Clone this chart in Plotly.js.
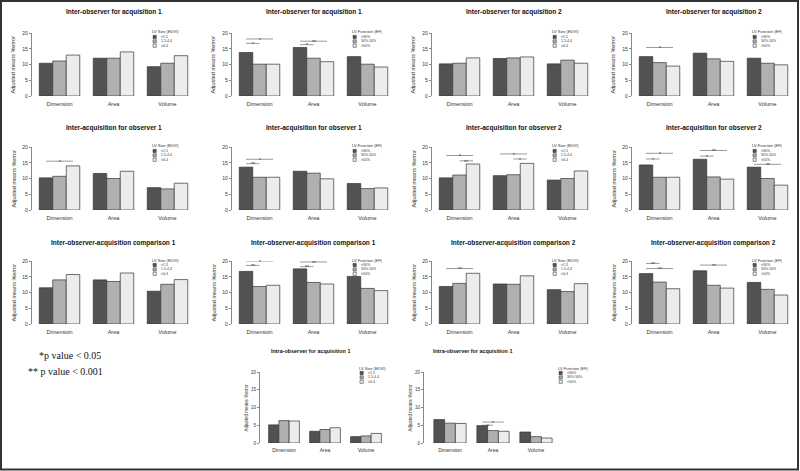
<!DOCTYPE html>
<html><head><meta charset="utf-8">
<script src="https://cdn.plot.ly/plotly-3.0.1.min.js"></script>
<style>html,body{margin:0;padding:0;background:#fff}#chart{width:800px;height:471px}</style>
</head><body><div id="chart"></div>
<script>
const categories = ["Dimension", "Area", "Volume"];
const sizeGroups = ["<1.5", "1.5-4.4", ">4.4"];
const functionGroups = ["<30%", "30%-50%", ">50%"];
const sizeLegendTitle = "LV Size (EDVI)";
const functionLegendTitle = "LV Function (EF)";
const yAxisTitle = "Adjusted means %error";
const yTicks = [0, 5, 10, 15, 20];

// each array: [group1, group2, group3], values over Dimension, Area, Volume
const interObsAcq1Size = [[10.4, 12.0, 9.3], [11.1, 12.0, 10.4], [13.0, 14.0, 12.8]];
const interObsAcq1Func = [[13.8, 15.4, 12.5], [10.1, 12.0, 10.1], [10.1, 10.9, 9.2]];
const interObsAcq2Size = [[10.2, 11.9, 10.2], [10.4, 12.1, 11.4], [12.1, 12.4, 10.4]];
const interObsAcq2Func = [[12.5, 13.6, 12.0], [10.6, 11.8, 10.4], [9.5, 11.0, 9.9]];
const interAcqObs1Size = [[10.2, 11.6, 7.1], [10.7, 10.0, 6.7], [14.0, 12.3, 8.5]];
const interAcqObs1Func = [[13.6, 12.3, 8.4], [10.4, 11.7, 6.8], [10.4, 9.9, 7.0]];
const interAcqObs2Size = [[10.2, 10.9, 9.5], [11.1, 11.2, 10.0], [14.6, 14.8, 12.4]];
const interAcqObs2Func = [[14.3, 16.1, 13.6], [10.4, 10.5, 10.0], [10.4, 9.8, 7.9]];
const comp1Size = [[11.5, 14.0, 10.4], [14.0, 13.5, 12.6], [15.7, 16.2, 14.1]];
const comp1Func = [[16.7, 17.5, 15.1], [11.9, 13.2, 11.3], [12.3, 12.7, 10.6]];
const comp2Size = [[11.9, 12.7, 10.9], [12.9, 12.6, 10.3], [16.1, 15.3, 12.8]];
const comp2Func = [[16.0, 16.9, 13.2], [13.3, 12.3, 11.0], [11.2, 11.4, 9.2]];
const intraAcq1Size = [[5.1, 3.3, 1.8], [6.3, 3.8, 2.0], [6.2, 4.3, 2.7]];
const intraAcq1Func = [[6.6, 4.9, 3.1], [5.6, 3.5, 1.8], [5.5, 3.3, 1.4]];

// significance brackets: [category, fromBar, toBar, level, label]
const sigInterObsAcq1Func = [[0, 0, 2, 18.1, "*"], [0, 0, 1, 16.7, "*"], [1, 0, 2, 17.4, "**"], [1, 0, 1, 16.3, "*"]];
const sigInterObsAcq2Func = [[0, 0, 2, 15.4, "*"]];
const sigInterAcqObs1Size = [[0, 0, 2, 15.5, "*"]];
const sigInterAcqObs1Func = [[0, 0, 2, 16.1, "*"], [0, 0, 1, 14.7, "**"]];
const sigInterAcqObs2Size = [[0, 0, 2, 17.3, "*"], [0, 1, 2, 15.6, "**"], [1, 0, 2, 17.8, "*"], [1, 1, 2, 16.2, "*"]];
const sigInterAcqObs2Func = [[0, 0, 2, 18.0, "*"], [0, 0, 1, 16.2, "*"], [1, 0, 2, 18.9, "**"], [1, 0, 1, 17.1, "*"], [2, 0, 2, 14.5, "**"]];
const sigComp1Func = [[0, 0, 2, 20.0, "*"], [0, 0, 1, 18.6, "**"], [1, 0, 2, 19.7, "**"], [1, 0, 1, 18.2, "**"]];
const sigComp2Size = [[0, 0, 2, 17.6, "**"]];
const sigComp2Func = [[0, 0, 1, 19.2, "**"], [0, 0, 2, 17.6, "**"], [1, 0, 2, 18.7, "**"]];
const sigIntraAcq1Func = [[1, 0, 2, 5.9, "*"], [1, 0, 1, 5.0, "*"]];

const pNotes = ["*p value &lt; 0.05", "** p value &lt; 0.001"];

const panels = [
  {v: interObsAcq1Size, sig: [], kind: "size", title: "Inter-observer for acquisition 1", row: 0, col: 0, yt: true},
  {v: interObsAcq1Func, sig: sigInterObsAcq1Func, kind: "func", title: "Inter-observer for acquisition 1", row: 0, col: 1, yt: true},
  {v: interObsAcq2Size, sig: [], kind: "size", title: "Inter-observer for acquisition 2", row: 0, col: 2, yt: true},
  {v: interObsAcq2Func, sig: sigInterObsAcq2Func, kind: "func", title: "Inter-observer for acquisition 2", row: 0, col: 3, yt: true},
  {v: interAcqObs1Size, sig: sigInterAcqObs1Size, kind: "size", title: "Inter-acquisition for observer 1", row: 1, col: 0, yt: true},
  {v: interAcqObs1Func, sig: sigInterAcqObs1Func, kind: "func", title: "Inter-acquisition for observer 1", row: 1, col: 1, yt: false},
  {v: interAcqObs2Size, sig: sigInterAcqObs2Size, kind: "size", title: "Inter-acquisition for observer 2", row: 1, col: 2, yt: true},
  {v: interAcqObs2Func, sig: sigInterAcqObs2Func, kind: "func", title: "Inter-acquisition for observer 2", row: 1, col: 3, yt: true},
  {v: comp1Size, sig: [], kind: "size", title: "Inter-observer-acquisition comparison 1", row: 2, col: 0, yt: true},
  {v: comp1Func, sig: sigComp1Func, kind: "func", title: "Inter-observer-acquisition comparison 1", row: 2, col: 1, yt: true},
  {v: comp2Size, sig: sigComp2Size, kind: "size", title: "Inter-observer-acquisition comparison 2", row: 2, col: 2, yt: true},
  {v: comp2Func, sig: sigComp2Func, kind: "func", title: "Inter-observer-acquisition comparison 2", row: 2, col: 3, yt: true},
  {v: intraAcq1Size, sig: [], kind: "size", title: "Intra-observer for acquisition 1", row: 3, col: 0, yt: true},
  {v: intraAcq1Func, sig: sigIntraAcq1Func, kind: "func", title: "Intra-observer for acquisition 1", row: 3, col: 1, yt: true}
];

// geometry (pixels)
const W = 800, H = 471;
const rowGeo = [
  {y0: 96, y20: 33, tY: 12},
  {y0: 210, y20: 147, tY: 128},
  {y0: 324, y20: 261, tY: 243},
  {y0: 443, y20: 372, tY: 351}
];
function geo(p) {
  if (p.row < 3) {
    const ax = 32 + 200 * p.col;
    return {ax: ax, c0: ax + 27.5, u: 54, legX: ax + 118, legY: rowGeo[p.row].y20 - 1, ytX: ax - 19,
            fs: 5.5, tfs: 5, tcx: null, tsz: 6.5, so: 3};
  }
  if (p.col === 0) return {ax: 260, c0: 284, u: 41, legX: 357, legY: 368, ytX: 246, fs: 5, tfs: 4.5, tcx: 310, tsz: 5.4, so: 3};
  return {ax: 424, c0: 450, u: 43, legX: 556, legY: 368, ytX: 410, fs: 5, tfs: 4.5, tcx: 472, tsz: 5.4, so: 3};
}
const PX = x => x / W;
const PY = y => 1 - y / H;

const colors = ["#525252", "#b0b0b0", "#ececec"];
const edge = "#333333";
const txt = "#333333";
const sans = "Liberation Sans, Arial, sans-serif";

const data = [];
const layout = {
  width: W, height: H, margin: {l: 0, r: 0, t: 0, b: 0},
  paper_bgcolor: "#ffffff", plot_bgcolor: "rgba(0,0,0,0)",
  barmode: "group", bargap: 0.25, bargroupgap: 0,
  showlegend: false, hovermode: false,
  font: {family: sans, color: txt},
  annotations: [], shapes: []
};

panels.forEach((p, k) => {
  const g = geo(p);
  const rg = rowGeo[p.row];
  const sfx = k === 0 ? "" : String(k + 1);
  const xr = "x" + sfx, yr = "y" + sfx;
  const left = -(g.c0 - g.ax) / g.u;
  const rightPx = g.c0 + 2 * g.u + (g.c0 - g.ax);
  const right = left + (rightPx - g.ax) / g.u;
  const groups = p.kind === "size" ? sizeGroups : functionGroups;
  p.v.forEach((series, j) => {
    data.push({
      type: "bar", x: [0, 1, 2], y: series, name: groups[j],
      xaxis: xr, yaxis: yr,
      marker: {color: colors[j], line: {color: edge, width: 0.7}}
    });
  });
  layout["xaxis" + sfx] = {
    domain: [PX(g.ax), PX(rightPx)], range: [left, right], anchor: yr,
    tickvals: [0, 1, 2], ticktext: categories, ticks: "", showline: false,
    ticklabelstandoff: g.so,
    showgrid: false, zeroline: false, tickfont: {size: g.fs, color: txt, family: sans}
  };
  layout["yaxis" + sfx] = {
    domain: [PY(rg.y0), PY(rg.y20)], range: [0, 20], anchor: xr,
    tickvals: yTicks, ticks: "outside", ticklen: 2.5, tickwidth: 0.7, tickcolor: "#555",
    showline: true, linecolor: "#555", linewidth: 0.7,
    showgrid: false, zeroline: false, tickfont: {size: g.tfs, color: txt, family: sans}
  };
  // title
  const tcx = g.tcx !== null ? g.tcx : (g.ax + rightPx) / 2;
  layout.annotations.push({
    xref: "paper", yref: "paper", x: PX(tcx), y: PY(rg.tY),
    xanchor: "center", yanchor: "middle", showarrow: false,
    text: "<b>" + p.title + "</b>", font: {size: g.tsz, color: "#111", family: sans}
  });
  // y title
  if (p.yt) {
    layout.annotations.push({
      xref: "paper", yref: "paper", x: PX(g.ytX), y: PY((rg.y0 + rg.y20) / 2),
      xanchor: "center", yanchor: "middle", showarrow: false, textangle: -90,
      text: yAxisTitle, font: {size: p.row < 3 ? 5.5 : 4.5, color: txt, family: sans}
    });
  }
  // legend
  layout.annotations.push({
    xref: "paper", yref: "paper", x: PX(g.legX), y: PY(g.legY),
    xanchor: "left", yanchor: "middle", showarrow: false,
    text: p.kind === "size" ? sizeLegendTitle : functionLegendTitle,
    font: {size: 4, color: txt, family: sans}
  });
  groups.forEach((lab, j) => {
    const cy = g.legY + 5 + 4.4 * j;
    layout.shapes.push({
      type: "rect", xref: "paper", yref: "paper",
      x0: PX(g.legX + 3), x1: PX(g.legX + 6.3), y0: PY(cy - 1.6), y1: PY(cy + 1.6),
      fillcolor: colors[j], line: {color: edge, width: 0.5}
    });
    layout.annotations.push({
      xref: "paper", yref: "paper", x: PX(g.legX + 9), y: PY(cy),
      xanchor: "left", yanchor: "middle", showarrow: false,
      text: lab.replace(/</g, "&lt;").replace(/>/g, "&gt;"),
      font: {size: 3.5, color: txt, family: sans}
    });
  });
  // significance brackets
  p.sig.forEach(s => {
    const xa = s[0] + (s[1] - 1) * 0.25, xb = s[0] + (s[2] - 1) * 0.25;
    layout.shapes.push({
      type: "line", xref: xr, yref: yr, x0: xa, x1: xb, y0: s[3], y1: s[3],
      line: {color: "#555", width: 0.6}
    });
    layout.annotations.push({
      xref: xr, yref: yr, x: (xa + xb) / 2, y: s[3], xanchor: "center", yanchor: "middle",
      showarrow: false, text: s[4], font: {size: 5, color: txt, family: sans}, yshift: -0.8
    });
  });
});

// p-value notes
layout.annotations.push({
  xref: "paper", yref: "paper", x: PX(37), y: PY(355), xanchor: "left", yanchor: "middle",
  showarrow: false, text: pNotes[0], font: {size: 10, color: "#111", family: "Liberation Serif, Times New Roman, serif"}
});
layout.annotations.push({
  xref: "paper", yref: "paper", x: PX(26), y: PY(371), xanchor: "left", yanchor: "middle",
  showarrow: false, text: pNotes[1], font: {size: 10, color: "#111", family: "Liberation Serif, Times New Roman, serif"}
});

// outer frame
layout.shapes.push({
  type: "rect", xref: "paper", yref: "paper", x0: PX(1), x1: PX(798), y0: PY(469.5), y1: PY(1),
  line: {color: "#333", width: 2}, fillcolor: "rgba(0,0,0,0)"
});

Plotly.newPlot("chart", data, layout, {staticPlot: true, displayModeBar: false});
</script></body></html>
